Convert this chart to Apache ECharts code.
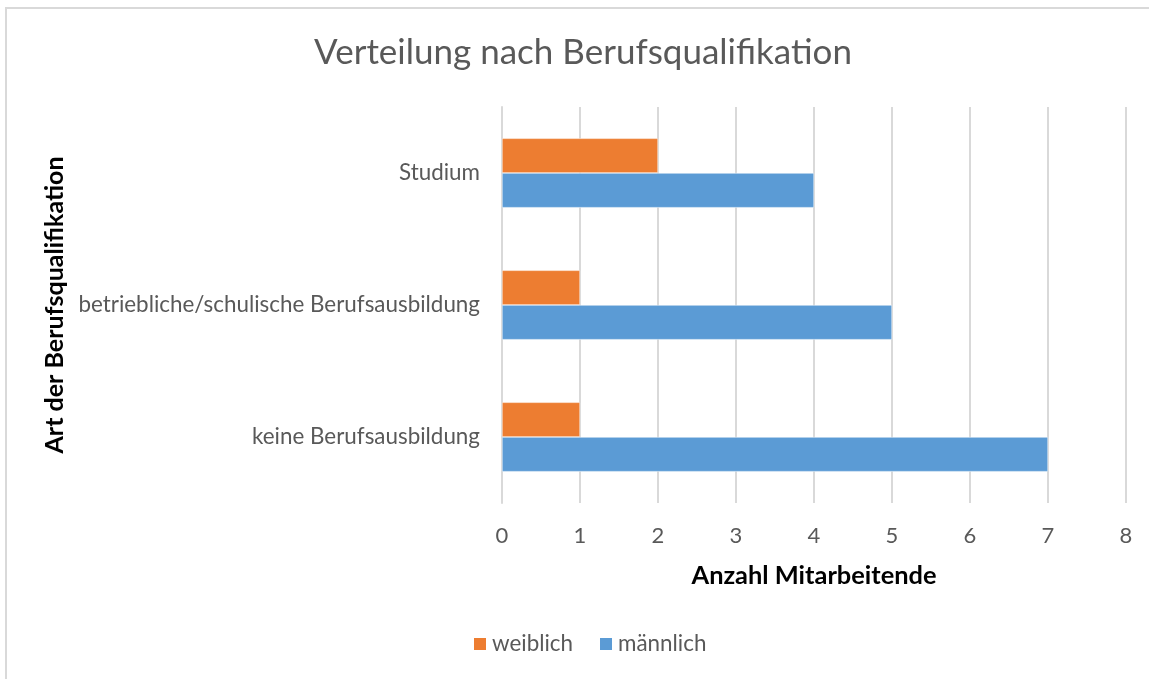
<!DOCTYPE html>
<html>
<head>
<meta charset="utf-8">
<script src="https://cdn.jsdelivr.net/npm/echarts@6/dist/echarts.min.js"></script>
<style>
html,body{margin:0;padding:0;background:#fff;overflow:hidden;}
#chart{width:1149px;height:679px;}
</style>
</head>
<body>
<div id="chart"></div>
<script>
const categories = ['keine Berufsausbildung', 'betriebliche/schulische Berufsausbildung', 'Studium'];
const weiblich = [1, 1, 2];
const maennlich = [7, 5, 4];
const xTicks = [0, 1, 2, 3, 4, 5, 6, 7, 8];

const chart = echarts.init(document.getElementById('chart'));
const font = 'Lato, Open Sans, sans-serif';
chart.setOption({
  animation: false,
  backgroundColor: '#ffffff',
  title: {
    text: 'Verteilung nach Berufsqualifikation',
    left: 578, top: 30, textAlign: 'center',
    textStyle: {fontFamily: font, fontSize: 35, fontWeight: 'normal', color: '#595959'}
  },
  graphic: [{
    type: 'rect', shape: {x: 6, y: 8, width: 1200, height: 700},
    style: {fill: 'none', stroke: '#d9d9d9', lineWidth: 2}, silent: true
  }],
  legend: {
    data: ['weiblich', 'männlich'],
    left: 467, top: 628, itemWidth: 14, itemHeight: 14, itemGap: 25,
    icon: 'rect',
    textStyle: {fontFamily: font, fontSize: 22.4, color: '#595959'}
  },
  grid: {left: 502, right: 23, top: 107, bottom: 176, containLabel: false},
  xAxis: {
    type: 'value', min: 0, max: 8, interval: 1,
    name: 'Anzahl Mitarbeitende', nameLocation: 'middle', nameGap: 60,
    nameTextStyle: {fontFamily: font, fontSize: 25.4, fontWeight: 'bold', color: '#000'},
    axisLine: {show: false}, axisTick: {show: false},
    axisLabel: {fontFamily: font, fontSize: 22, color: '#595959', margin: 22,
      formatter: v => xTicks.includes(v) ? String(v) : ''},
    splitLine: {show: true, lineStyle: {color: '#d9d9d9', width: 2}}
  },
  yAxis: {
    type: 'category', data: categories,
    name: 'Art der Berufsqualifikation', nameLocation: 'middle', nameGap: 429, nameRotate: 90,
    nameTextStyle: {fontFamily: font, fontSize: 25, fontWeight: 'bold', color: '#000'},
    axisLine: {show: true, lineStyle: {color: '#d9d9d9', width: 2}},
    axisTick: {show: false},
    axisLabel: {fontFamily: font, fontSize: 22.4, color: '#595959', margin: 22}
  },
  series: [
    {name: 'weiblich', type: 'bar', data: weiblich, barGap: '0%', barCategoryGap: '47.5%',
      itemStyle: {color: '#ED7D31', borderColor: '#fff', borderWidth: 0.5}},
    {name: 'männlich', type: 'bar', data: maennlich, barGap: '0%', barCategoryGap: '47.5%',
      itemStyle: {color: '#5B9BD5', borderColor: '#fff', borderWidth: 0.5}}
  ]
});
</script>
</body>
</html>
